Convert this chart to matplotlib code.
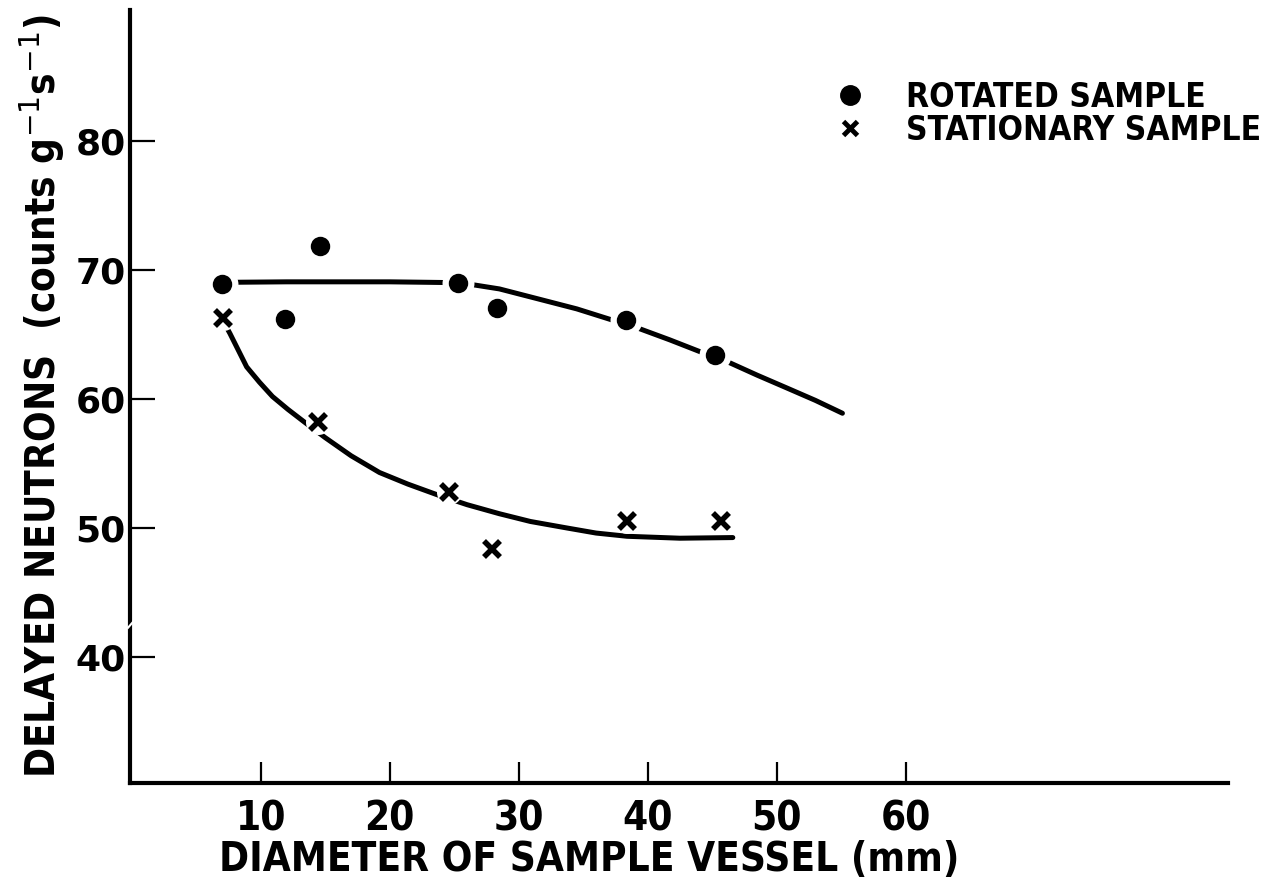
import matplotlib
matplotlib.use("Agg")
import matplotlib.pyplot as plt
from matplotlib.lines import Line2D

# measured points
rotated_x = [7.0, 11.9, 14.6, 25.3, 28.3, 38.3, 45.2]
rotated_y = [68.9, 66.2, 71.9, 69.0, 67.1, 66.1, 63.4]

stationary_x = [7.05, 14.4, 24.6, 27.9, 38.4, 45.7]
stationary_y = [66.3, 58.2, 52.8, 48.4, 50.5, 50.5]

# hand-drawn trend curves
rot_curve_x = [7.0, 8.4, 12, 16, 20, 24.0, 25.3, 26.6, 28.5, 31.6, 34.5, 37.2,
               39.4, 41.7, 44.0, 46.4, 48.5, 50.7, 53.0, 55.1]
rot_curve_y = [69.05, 69.07, 69.1, 69.1, 69.1, 69.05, 69.0, 68.85, 68.55, 67.75,
               67.0, 66.15, 65.45, 64.6, 63.7, 62.8, 61.85, 60.9, 59.9, 58.9]

sta_curve_x = [7.05, 7.6, 8.3, 8.9, 9.9, 10.9, 12.1, 13.4, 15.0, 17.0, 19.2,
               21.4, 23.6, 26.0, 28.5, 30.9, 33.7, 36.0, 38.4, 42.5, 46.6]
sta_curve_y = [66.1, 65.1, 63.7, 62.5, 61.3, 60.2, 59.2, 58.2, 57.0, 55.6, 54.3,
               53.4, 52.6, 51.8, 51.1, 50.5, 50.0, 49.6, 49.35, 49.2, 49.25]

x_ticks = [10, 20, 30, 40, 50, 60]
y_ticks = [40, 50, 60, 70, 80]
BREAK_AT = 42.6

fig = plt.figure(figsize=(12.69, 8.92), dpi=100)
ax = fig.add_axes([0.1024, 0.1222, 0.8653, 0.8666])

ax.plot(rot_curve_x, rot_curve_y, color="black", lw=3.6, solid_capstyle="round", zorder=2)
ax.plot(sta_curve_x, sta_curve_y, color="black", lw=3.6, solid_capstyle="round", zorder=2)

# white halos leave the gaps in the curves around each point
ax.plot(rotated_x, rotated_y, "o", color="white", ms=23, mew=0, zorder=3)
ax.plot(stationary_x, stationary_y, "o", color="white", ms=18, mew=0, zorder=3)
ax.plot(rotated_x, rotated_y, "o", color="black", ms=14, mew=0, zorder=4)
ax.plot(stationary_x, stationary_y, "x", color="black", ms=11, mew=4, zorder=4)

ax.set_xlim(-0.15, 85)
ax.set_ylim(30.2, 90.2)
ax.set_xticks(x_ticks)
ax.set_yticks(y_ticks)

for side in ["top", "right"]:
    ax.spines[side].set_visible(False)
for side in ["left", "bottom"]:
    ax.spines[side].set_linewidth(3)

ax.tick_params(axis="both", direction="in", width=1.6, color="black")
ax.tick_params(axis="y", length=18, pad=3, labelsize=26)
ax.tick_params(axis="x", length=15, pad=12, labelsize=29)
for lab in ax.get_yticklabels():
    lab.set_fontweight("bold")
for lab in ax.get_xticklabels():
    lab.set_fontweight("bold")
    lab.set_fontstretch("condensed")

# axis break mark on the y axis
ax.plot([-0.3, 0.3], [BREAK_AT - 0.35, BREAK_AT + 0.35], color="white", lw=1.5,
        clip_on=False, zorder=5)

ax.set_ylabel(r"DELAYED NEUTRONS  (counts g$^{-1}$s$^{-1}$)", fontsize=29,
              fontweight="bold", fontstretch="condensed", labelpad=6)
fig.text(0.464, 0.036, "DIAMETER OF SAMPLE VESSEL (mm)", fontsize=29,
         fontweight="bold", fontstretch="condensed", ha="center", va="center")

handles = [
    Line2D([], [], ls="none", marker="o", color="black", ms=14),
    Line2D([], [], ls="none", marker="x", color="black", ms=10, mew=3.5),
]
ax.legend(handles, ["ROTATED SAMPLE", "STATIONARY SAMPLE"], loc="center left",
          bbox_to_anchor=(0.625, 0.866), frameon=False, handlelength=1.0,
          handletextpad=1.2, labelspacing=0.0, borderpad=0,
          prop={"weight": "bold", "stretch": "condensed", "size": 24})

fig.savefig("out.png", dpi=100)
